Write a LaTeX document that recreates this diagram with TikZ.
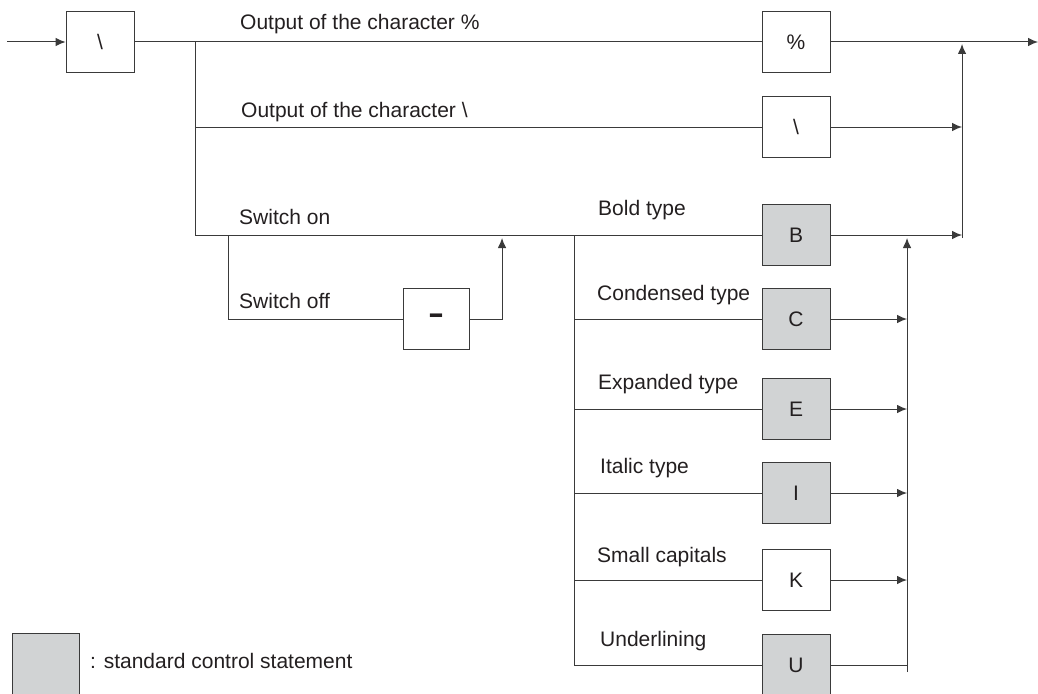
\documentclass[tikz,border=0pt]{standalone}
\usepackage{fontspec}
\setmainfont{Liberation Sans}
\usetikzlibrary{arrows.meta}
\definecolor{boxgray}{HTML}{D1D3D4}
\definecolor{ink}{HTML}{231F20}
\definecolor{wire}{HTML}{3A3A3A}
\begin{document}
\begin{tikzpicture}[x=1pt,y=-1pt,
  every node/.style={font=\fontsize{21}{25}\selectfont, text=ink},
  box/.style={draw=wire, line width=0.9pt, minimum width=68pt, minimum height=61pt, inner sep=0pt, fill=white},
  stdbox/.style={box, fill=boxgray},
  lbl/.style={anchor=base west, inner sep=0pt},
  wireline/.style={draw=wire, line width=1pt},
  arr/.style={wireline, -{Latex[length=10pt,width=8.5pt]}}
]
\useasboundingbox (0,0) rectangle (1038,693);
% boxes
\node[box] (bs) at (100,42) {\textbackslash};
\node[box] (pct) at (796,42) {\%};
\node[box] (bs2) at (796,127) {\textbackslash};
\node[stdbox] (B) at (796,235) {B};
\node[box, minimum width=66pt] (minus) at (436,319) {\scalebox{1.6}[1]{\fontsize{30}{30}\selectfont\bfseries -}};
\node[stdbox] (C) at (796,319) {C};
\node[stdbox] (E) at (796,409) {E};
\node[stdbox] (I) at (796,493) {I};
\node[box] (K) at (796,580) {K};
\node[stdbox] (U) at (796,665) {U};
% coordinates
\coordinate (in) at (7,42);
\coordinate (out) at (1038,42);
\coordinate (j1) at (195,42);
\coordinate (j2) at (195,127);
\coordinate (j3) at (195,235);
\coordinate (s1) at (228,235);
\coordinate (s2) at (228,319);
\coordinate (m1) at (502,319);
\coordinate (m2) at (502,238);
\coordinate (g0) at (574,235);
\coordinate (gC) at (574,319);
\coordinate (gE) at (574,409);
\coordinate (gI) at (574,493);
\coordinate (gK) at (574,580);
\coordinate (gU) at (574,665);
\coordinate (rC) at (907,319);
\coordinate (rE) at (907,409);
\coordinate (rI) at (907,493);
\coordinate (rK) at (907,580);
\coordinate (rU) at (907,665);
\coordinate (rbot) at (907,672);
\coordinate (rtop) at (907,238);
\coordinate (q2) at (962,127);
\coordinate (qB) at (962,235);
\coordinate (qbot) at (962,238);
\coordinate (qtop) at (962,44);
% connectors
\draw[arr] (in) -- (bs.west);
\draw[wireline] (bs.east) -- (pct.west);
\draw[wireline] (j1) -- (j3) -- (B.west);
\draw[wireline] (j2) -- (bs2.west);
\draw[wireline] (s1) -- (s2) -- (minus.west);
\draw[arr] (minus.east) -- (m1) -- (m2);
\draw[wireline] (g0) -- (gU) -- (U.west);
\draw[wireline] (gC) -- (C.west);
\draw[wireline] (gE) -- (E.west);
\draw[wireline] (gI) -- (I.west);
\draw[wireline] (gK) -- (K.west);
\draw[arr] (C.east) -- (rC);
\draw[arr] (E.east) -- (rE);
\draw[arr] (I.east) -- (rI);
\draw[arr] (K.east) -- (rK);
\draw[wireline] (U.east) -- (rU);
\draw[arr] (rbot) -- (rtop);
\draw[arr] (bs2.east) -- (q2);
\draw[arr] (B.east) -- (qB);
\draw[arr] (qbot) -- (qtop);
\draw[arr] (pct.east) -- (out);
% labels
\node[lbl] (t1) at (240,30) {Output of the character \%};
\node[lbl] (t2) at (241,117) {Output of the character \textbackslash};
\node[lbl] (t3) at (239,224) {Switch on};
\node[lbl] (t4) at (239,308) {Switch off};
\node[lbl] (t5) at (598,215) {Bold type};
\node[lbl] (t6) at (597,300) {Condensed type};
\node[lbl] (t7) at (598,389) {Expanded type};
\node[lbl] (t8) at (600,473) {Italic type};
\node[lbl] (t9) at (597,562) {Small capitals};
\node[lbl] (t10) at (600,646) {Underlining};
% legend
\node[stdbox, minimum width=67pt, minimum height=62pt] (leg) at (45.5,664) {};
\node[lbl] (legt) at (90,668) {: standard control statement};
\end{tikzpicture}
\end{document}
